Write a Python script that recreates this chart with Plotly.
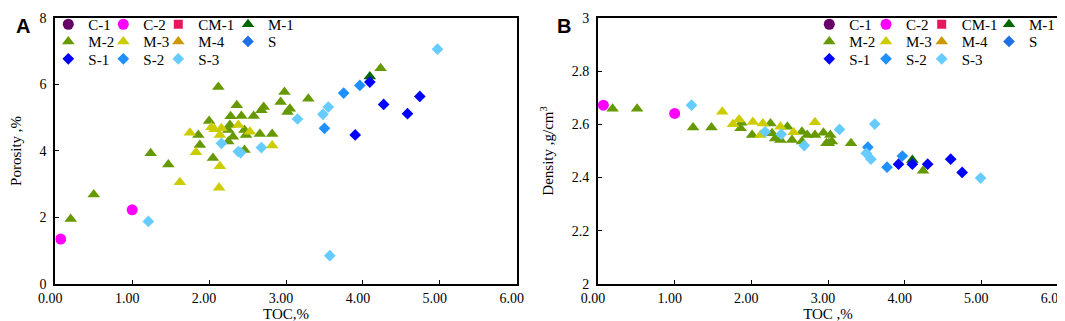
import plotly.graph_objects as go

# ---------------- data ----------------
categories = ["C-1", "C-2", "CM-1", "M-1", "M-2", "M-3", "M-4", "S", "S-1", "S-2", "S-3"]

# Panel A : TOC (%) vs porosity (%)   (C-1, CM-1, M-4 and S have no points in the plot)
a_toc = {
    "C-1": [None], "CM-1": [None], "M-4": [None], "S": [None],
    "C-2": [0.07, 1.00],
    "M-1": [4.09],
    "M-2": [2.12, 2.98, 2.93, 3.05, 3.02, 3.29, 2.36, 2.28, 2.42, 2.58, 2.68, 2.71, 2.00, 2.27, 2.25,
            1.86, 1.88, 2.31, 2.46, 2.48, 2.66, 2.82, 2.46, 2.05, 1.24, 1.47, 2.25, 0.50, 0.20, 4.23],
    "M-3": [1.75, 2.03, 2.07, 2.16, 2.14, 2.38, 2.53, 1.83, 2.14, 2.82, 1.62, 2.13],
    "S-1": [4.09, 4.27, 3.90, 4.58, 4.74],
    "S-2": [3.50, 3.75, 3.96],
    "S-3": [1.21, 2.16, 2.38, 2.41, 2.68, 3.15, 3.48, 3.55, 4.97, 3.57],
}
a_por = {
    "C-1": [None], "CM-1": [None], "M-4": [None], "S": [None],
    "C-2": [1.35, 2.23],
    "M-1": [6.24],
    "M-2": [5.92, 5.77, 5.47, 5.27, 5.17, 5.57, 5.37, 5.04, 5.05, 5.05, 5.22, 5.32, 4.90, 4.78, 4.63,
            4.48, 4.18, 4.43, 4.63, 4.48, 4.51, 4.51, 4.03, 3.79, 3.93, 3.59, 4.28, 2.69, 1.95, 6.49],
    "M-3": [4.55, 4.71, 4.65, 4.68, 4.48, 4.78, 4.58, 3.96, 3.54, 4.16, 3.06, 2.89],
    "S-1": [6.07, 5.40, 4.48, 5.12, 5.64],
    "S-2": [4.68, 5.74, 5.97],
    "S-3": [1.88, 4.23, 3.98, 3.95, 4.10, 4.96, 5.10, 5.32, 7.06, 0.85],
}

# Panel B : TOC (%) vs density (g/cm3)
b_toc = {
    "C-1": [None], "CM-1": [None], "M-4": [None], "S": [None],
    "C-2": [0.07, 1.00],
    "M-1": [4.10],
    "M-2": [0.19, 0.51, 1.24, 1.48, 1.87, 1.86, 2.01, 2.25, 2.27, 2.31, 2.47, 2.53, 2.66, 2.73, 2.83,
            2.94, 2.98, 2.66, 2.38, 3.03, 3.01, 3.05, 3.30, 4.24],
    "M-3": [1.62, 1.76, 1.84, 2.02, 2.15, 2.38, 2.55, 2.83, 2.12],
    "S-1": [3.92, 4.10, 4.30, 4.60, 4.75],
    "S-2": [3.52, 3.77, 3.97],
    "S-3": [1.22, 2.18, 2.39, 2.69, 3.15, 3.50, 3.56, 3.61, 4.99],
}
b_den = {
    "C-1": [None], "CM-1": [None], "M-4": [None], "S": [None],
    "C-2": [2.672, 2.641],
    "M-1": [2.466],
    "M-2": [2.659, 2.659, 2.588, 2.588, 2.606, 2.585, 2.560, 2.603, 2.566, 2.547, 2.591, 2.541, 2.572,
            2.560, 2.560, 2.568, 2.529, 2.535, 2.541, 2.560, 2.529, 2.535, 2.529, 2.425],
    "M-3": [2.647, 2.600, 2.618, 2.609, 2.603, 2.591, 2.570, 2.608, 2.560],
    "S-1": [2.450, 2.450, 2.450, 2.469, 2.419],
    "S-2": [2.514, 2.439, 2.481],
    "S-3": [2.672, 2.572, 2.563, 2.520, 2.581, 2.491, 2.469, 2.601, 2.398],
}

x_ticks = [0, 1, 2, 3, 4, 5, 6]
x_tick_labels = ["0.00", "1.00", "2.00", "3.00", "4.00", "5.00", "6.00"]
a_y_ticks = [0, 2, 4, 6, 8]
b_y_ticks = [2, 2.2, 2.4, 2.6, 2.8, 3]
b_y_tick_labels = ["2", "2.2", "2.4", "2.6", "2.8", "3"]

# ---------------- styles ----------------
style = {
    "C-1": ("circle", "#660066", 11),
    "C-2": ("circle", "#FF00FF", 11),
    "CM-1": ("square", "#E8175D", 9),
    "M-1": ("triangle-up", "#006600", 11),
    "M-2": ("triangle-up", "#669900", 11),
    "M-3": ("triangle-up", "#CCCC00", 11),
    "M-4": ("triangle-up", "#CC9900", 11),
    "S": ("diamond", "#1F6FE6", 9),
    "S-1": ("diamond", "#0000FF", 9),
    "S-2": ("diamond", "#1E90FF", 9),
    "S-3": ("diamond", "#66CCFF", 9),
}
grid_rows = [["C-1", "C-2", "CM-1", "M-1"], ["M-2", "M-3", "M-4", "S"], ["S-1", "S-2", "S-3"]]
cell = {c: (ri, ci) for ri, r in enumerate(grid_rows) for ci, c in enumerate(r)}

FONT = "Liberation Serif, Times New Roman, serif"
W, H = 1065, 321

fig = go.Figure()

for panel, (xs, ys, xa, ya) in enumerate([(a_toc, a_por, "x", "y"), (b_toc, b_den, "x2", "y2")]):
    for i, c in enumerate(categories):
        sym, col, size = style[c]
        li = panel * len(categories) + i + 1
        fig.add_trace(go.Scatter(
            x=xs[c], y=ys[c], mode="markers", name=c,
            marker=dict(symbol=sym, color=col, size=size, line=dict(width=0)),
            xaxis=xa, yaxis=ya,
            legend="legend" if li == 1 else f"legend{li}",
            showlegend=True,
        ))

axis_common = dict(showline=True, mirror=True, linecolor="black", linewidth=2,
                   ticks="inside", ticklen=4, tickcolor="black", tickwidth=1,
                   showgrid=False, zeroline=False,
                   tickfont=dict(family=FONT, size=14, color="black"))
title_font = dict(family=FONT, size=15, color="black")

xa_dom = [47.3 / W, 508.7 / W]
xb_dom = [590 / W, 1050 / W]
y_dom = [(H - 275.5) / H, (H - 7) / H]

fig.update_layout(
    width=W, height=H, margin=dict(l=0, r=0, t=0, b=0),
    paper_bgcolor="white", plot_bgcolor="white", template="none",
    xaxis=dict(domain=xa_dom, range=[0, 6], tickvals=x_ticks, ticktext=x_tick_labels, anchor="y",
               ticklabelshift=-5, title=dict(text="TOC,%", font=title_font, standoff=2),
               **axis_common),
    yaxis=dict(domain=y_dom, range=[0, 8], tickvals=a_y_ticks, anchor="x",
               ticklabelstandoff=4,
               title=dict(text="Porosity ,%", font=title_font, standoff=14),
               **axis_common),
    xaxis2=dict(domain=xb_dom, range=[0, 6], tickvals=x_ticks, ticktext=x_tick_labels, anchor="y2",
                ticklabelshift=-5, title=dict(text="TOC ,%", font=title_font, standoff=2),
                **axis_common),
    yaxis2=dict(domain=y_dom, range=[2, 3], tickvals=b_y_ticks, ticktext=b_y_tick_labels, anchor="x2",
                ticklabelstandoff=4,
                title=dict(text="Density ,g/cm<sup>3</sup>", font=title_font, standoff=14),
                **axis_common),
    showlegend=True,
)

# legend grid (marker centres in the reference, pixels)
col_x = [[68.3, 123.3, 178.3, 235.0], [833.3, 890.0, 945.7, 1000.0]]
col_shift = [[-28, -28, -28, -15], [-32, -32, -32, -19]]
row_y = [13.5, 31.0, 48.5]
for panel in range(2):
    for i, c in enumerate(categories):
        ri, ci = cell[c]
        li = panel * len(categories) + i + 1
        key = "legend" if li == 1 else f"legend{li}"
        fig.update_layout({key: dict(
            orientation="v", x=(col_x[panel][ci] + col_shift[panel][ci]) / W, xanchor="left",
            y=1 - row_y[ri] / H, yanchor="middle",
            itemwidth=30, bgcolor="rgba(0,0,0,0)", borderwidth=0,
            font=dict(family=FONT, size=15, color="black"),
            tracegroupgap=0,
        )})

for txt, xp in [("A", 15), ("B", 556)]:
    fig.add_annotation(text=f"<b>{txt}</b>", x=xp / W, y=1 - 15 / H, xref="paper", yref="paper",
                       showarrow=False, xanchor="center", yanchor="middle",
                       font=dict(family="Liberation Sans, Arial, sans-serif", size=20, color="black"))

fig.write_html("out.html")
